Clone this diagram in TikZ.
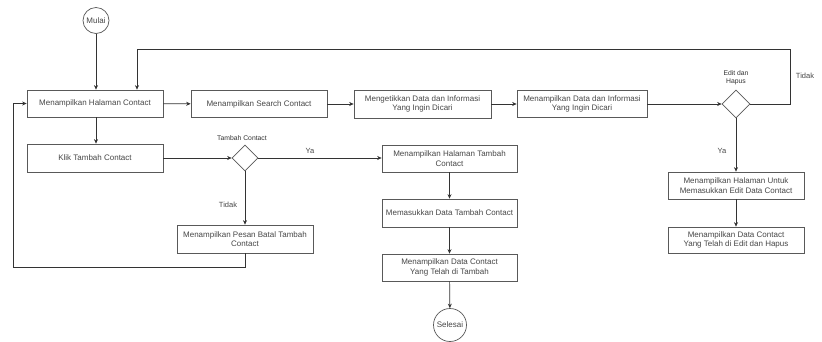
\documentclass[tikz,border=0pt]{standalone}
\usepackage{fontspec}
\setmainfont{Liberation Sans}
\usetikzlibrary{arrows.meta,shapes.geometric}
\begin{document}
\begin{tikzpicture}[x=1pt,y=-1pt,
 box/.style={draw=black!65, line width=0.7pt, rectangle, minimum width=136pt, minimum height=27pt, inner sep=1pt, align=center, font=\fontsize{8}{9.6}\selectfont, text=black!72},
 term/.style={draw=black!65, line width=0.7pt, circle, inner sep=0pt, font=\fontsize{8}{9.6}\selectfont, text=black!72},
 dec/.style={draw=black!65, line width=0.7pt, diamond, minimum size=28pt, inner sep=0pt, aspect=1},
 arr/.style={draw=black!80, line width=0.7pt, -{Stealth[length=4.5pt,width=4pt]}},
 lbl/.style={font=\fontsize{7.5}{9}\selectfont, text=black!72, inner sep=0pt, align=center},
 slbl/.style={font=\fontsize{6.8}{8.4}\selectfont, text=black!80, inner sep=0pt, align=center}]
\useasboundingbox[fill=white] (0,0) rectangle (822,341);

% nodes
\node[term, minimum size=26pt] (mulai) at (96,20.5) {Mulai};
\node[box] (b1) at (95,103.5) {Menampilkan Halaman Contact};
\node[box, minimum height=28pt] (klik) at (95,158) {Klik Tambah Contact};
\node[box] (search) at (259,104) {Menampilkan Search Contact};
\node[box, minimum width=137pt, minimum height=28pt] (ketik) at (422.5,104) {Mengetikkan Data dan Informasi\\Yang Ingin Dicari};
\node[box, minimum width=130pt] (tampil) at (582,104) {Menampilkan Data dan Informasi\\Yang Ingin Dicari};
\node[dec] (ed) at (736,104) {};
\node[slbl] (edlbl) at (736,77.5) {Edit dan\\Hapus};
\node[box] (editbox) at (736,185.5) {Menampilkan Halaman Untuk\\Memasukkan Edit Data Contact};
\node[box, minimum height=26pt] (editres) at (736,240) {Menampilkan Data Contact\\Yang Telah di Edit dan Hapus};
\node[dec, minimum size=26pt] (td) at (245,158) {};
\node[slbl] (tdlbl) at (242,138) {Tambah Contact};
\node[box, minimum width=135pt] (tbox) at (449.5,158.5) {Menampilkan Halaman Tambah\\Contact};
\node[box, minimum width=135pt, minimum height=28pt] (masuk) at (449.5,213) {Memasukkan Data Tambah Contact};
\node[box, minimum width=135pt] (dc) at (449.5,267.5) {Menampilkan Data Contact\\Yang Telah di Tambah};
\node[term, minimum size=33pt] (selesai) at (450,325) {Selesai};
\node[box, minimum height=28pt] (pb) at (245,239) {Menampilkan Pesan Batal Tambah\\Contact};

% labels
\node[lbl] (tidak1) at (805,76) {Tidak};
\node[lbl] (ya1) at (722,151) {Ya};
\node[lbl] (ya2) at (310,151) {Ya};
\node[lbl] (tidak2) at (228,205) {Tidak};

% helper coordinates
\coordinate (r1) at (790,49);
\coordinate (l1) at (137,49);
\coordinate (l2) at (13,267);

% connectors
\draw[arr] (mulai.south) -- (mulai.south |- b1.north);
\draw[arr] (b1) -- (search);
\draw[arr] (search) -- (ketik);
\draw[arr] (ketik) -- (tampil);
\draw[arr] (tampil) -- (ed.west);
\draw[arr] (ed.east) -| (r1) -- (l1) -- (l1 |- b1.north);
\draw[arr] (ed.south) -- (editbox.north);
\draw[arr] (editbox) -- (editres);
\draw[arr] (b1.south -| mulai.south) -- (klik.north -| mulai.south);
\draw[arr] (klik.east) -- (td.west);
\draw[arr] (td.east) -- (td.east -| tbox.west);
\draw[arr] (td.south) -- (pb.north);
\draw[arr] (pb.south) |- (l2) |- (b1.west);
\draw[arr] (tbox) -- (masuk);
\draw[arr] (masuk) -- (dc);
\draw[arr] (dc) -- (selesai);
\end{tikzpicture}
\end{document}
